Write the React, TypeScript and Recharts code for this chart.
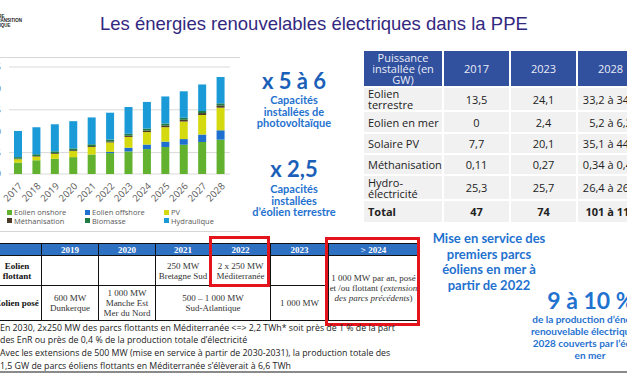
import React from 'react';
import { BarChart, Bar, XAxis, YAxis, CartesianGrid, Legend } from 'recharts';

// ── chart data (GW) ──
const YEARS = ['2017', '2018', '2019', '2020', '2021', '2022', '2023', '2024', '2025', '2026', '2027', '2028'];
const ONSHORE = [13.4, 16.1, 17.7, 19.7, 22.8, 24.4, 26.4, 29.1, 31.5, 34.2, 37.4, 40.1];
const OFFSHORE = [0, 0, 0, 0, 0, 1.5, 4.3, 5.3, 6.3, 6.6, 8.7, 11];
const PV = [3.9, 4.3, 5.9, 7.1, 8.7, 11, 12.6, 14.6, 16.9, 20.5, 22.8, 26.4];
const METHANISATION = [0.6, 0.7, 0.9, 1.0, 1.1, 1.2, 1.5, 1.8, 2.0, 2.1, 2.3, 2.6];
const BIOMASSE = [1.8, 1.9, 2.0, 2.1, 2.1, 2.1, 2.2, 2.2, 2.3, 2.3, 2.4, 2.4];
const HYDRO = [30.6, 31.5, 31.6, 31.8, 31.4, 31.4, 31.3, 31.2, 31.6, 30.9, 31.0, 30.8];
const Y_TICKS = [0, 25, 50, 75, 100, 125];

const SERIES = [
    { key: 'onshore', name: 'Eolien onshore', color: '#62b22f', values: ONSHORE },
    { key: 'offshore', name: 'Eolien offshore', color: '#1f6fd1', values: OFFSHORE },
    { key: 'pv', name: 'PV', color: '#d5d90f', values: PV },
    { key: 'metha', name: 'Méthanisation', color: '#4d3b2a', values: METHANISATION },
    { key: 'bio', name: 'Biomasse', color: '#1e7b43', values: BIOMASSE },
    { key: 'hydro', name: 'Hydraulique', color: '#1a9bd7', values: HYDRO },
];

// ── PPE table (right) ──
const PPE_HEAD = ['Puissance installée (en GW)', '2017', '2023', '2028'];
const PPE_ROWS = [
    ['Eolien terrestre', '13,5', '24,1', '33,2 à 34,7'],
    ['Eolien en mer', '0', '2,4', '5,2 à 6,2'],
    ['Solaire PV', '7,7', '20,1', '35,1 à 44,0'],
    ['Méthanisation', '0,11', '0,27', '0,34 à 0,42'],
    ['Hydro-électricité', '25,3', '25,7', '26,4 à 26,7'],
    ['Total', '47', '74', '101 à 113'],
];

const BLUE = '#1f72cf';

const chartData = YEARS.map((year, i) => {
    const row: Record<string, string | number> = { year };
    SERIES.forEach((s) => { row[s.key] = s.values[i]; });
    return row;
});

function ChartLegend() {
    return (
        <div style={{ display: 'grid', gridTemplateColumns: '78px 79px 70px', fontSize: 7.5, lineHeight: '8.5px', color: '#595959', fontFamily: 'Open Sans' }}>
            {SERIES.map((s) => (
                <div key={s.key} style={{ display: 'flex', alignItems: 'center', whiteSpace: 'nowrap' }}>
                    <span style={{ width: 5, height: 5, background: s.color, marginRight: 2, display: 'inline-block' }} />
                    {s.name}
                </div>
            ))}
        </div>
    );
}

function CapacityChart() {
    return (
        <div style={{ position: 'absolute', left: -31, top: 57 }}>
            <BarChart width={261} height={175} data={chartData} margin={{ top: 10, right: 0, bottom: 7, left: 0 }} barSize={8}>
                <CartesianGrid vertical={false} stroke="#d9d9d9" />
                <XAxis
                    dataKey="year"
                    axisLine={false}
                    tickLine={false}
                    interval={0}
                    height={34}
                    angle={-45}
                    textAnchor="end"
                    tick={{ fill: '#595959', fontSize: 9.5, fontFamily: 'Open Sans' }}
                />
                <YAxis
                    width={40}
                    domain={[0, 125]}
                    ticks={Y_TICKS}
                    axisLine={false}
                    tickLine={false}
                    tick={{ fill: '#595959', fontSize: 9.5, fontFamily: 'Open Sans' }}
                />
                <Legend verticalAlign="bottom" content={<ChartLegend />} wrapperStyle={{ left: 38, bottom: 7, width: 235 }} />
                {SERIES.map((s) => (
                    <Bar key={s.key} dataKey={s.key} name={s.name} stackId="a" fill={s.color} isAnimationActive={false} />
                ))}
            </BarChart>
        </div>
    );
}

function PpeTable() {
    const cell: React.CSSProperties = { display: 'flex', alignItems: 'center', justifyContent: 'center', fontSize: 11, color: '#222', background: '#f1f1f1', whiteSpace: 'nowrap', overflow: 'hidden' };
    return (
        <div style={{ position: 'absolute', left: 364, top: 51, display: 'grid', gridTemplateColumns: '78px 65px 65px 65px', gridTemplateRows: '35px 22px 20px 19px 19px 23px 21px', gap: 2, fontFamily: 'Open Sans' }}>
            {PPE_HEAD.map((h, i) => (
                <div key={h} style={{ ...cell, background: '#31509e', color: '#e9edf8', textAlign: 'center', whiteSpace: 'normal', lineHeight: '11px', padding: i === 0 ? '0 4px' : 0 }}>{h}</div>
            ))}
            {PPE_ROWS.map((r, ri) => r.map((v, ci) => (
                <div key={`${ri}-${ci}`} style={{
                    ...cell,
                    justifyContent: ci === 0 ? 'flex-start' : 'center',
                    paddingLeft: ci === 0 ? 4 : 0,
                    whiteSpace: ci === 0 ? 'normal' : 'nowrap',
                    lineHeight: '11px',
                    fontWeight: ri === PPE_ROWS.length - 1 ? 700 : 400,
                }}>{v}</div>
            )))}
        </div>
    );
}

function OffshoreTable() {
    const td: React.CSSProperties = { border: '1.5px solid #111', fontFamily: 'Liberation Serif', fontSize: 9, lineHeight: '10px', color: '#333', textAlign: 'center', padding: 0, verticalAlign: 'middle' };
    const th: React.CSSProperties = { ...td, background: '#2e70c2', color: '#fff', fontWeight: 700 };
    const lbl: React.CSSProperties = { ...td, fontWeight: 700, color: '#111' };
    return (
        <table style={{ position: 'absolute', left: -8, top: 243, borderCollapse: 'collapse', tableLayout: 'fixed', width: 426 }}>
            <colgroup>
                {[49, 57, 57, 55, 60, 58, 90].map((w, i) => <col key={i} style={{ width: w }} />)}
            </colgroup>
            <tbody>
                <tr style={{ height: 12 }}>
                    <th style={th}></th>
                    {['2019', '2020', '2021', '2022', '2023', '> 2024'].map((y) => <th key={y} style={th}>{y}</th>)}
                </tr>
                <tr style={{ height: 30 }}>
                    <td style={lbl}>Eolien<br />flottant</td>
                    <td style={td}></td>
                    <td style={td}></td>
                    <td style={td}>250 MW<br />Bretagne Sud</td>
                    <td style={td}>2 x 250 MW<br />Méditerranée</td>
                    <td style={td}></td>
                    <td style={td} rowSpan={2}>1 000 MW par an, posé<br />et /ou flottant (<i>extension<br />des parcs précédents</i>)</td>
                </tr>
                <tr style={{ height: 35 }}>
                    <td style={{ ...lbl, whiteSpace: 'nowrap' }}>Eolien posé</td>
                    <td style={td}>600 MW<br />Dunkerque</td>
                    <td style={td}>1 000 MW<br />Manche Est<br />Mer du Nord</td>
                    <td style={td} colSpan={2}>500 – 1 000 MW<br />Sud-Atlantique</td>
                    <td style={td}>1 000 MW</td>
                </tr>
            </tbody>
        </table>
    );
}

export default function App() {
    const callBig: React.CSSProperties = { position: 'absolute', fontFamily: 'Lato', fontWeight: 700, color: '#1a5fb8', textAlign: 'center', whiteSpace: 'nowrap', lineHeight: '24px' };
    const callSmall: React.CSSProperties = { position: 'absolute', fontFamily: 'Lato', fontWeight: 700, color: BLUE, textAlign: 'center', whiteSpace: 'nowrap' };
    return (
        <div style={{ position: 'absolute', left: 0, top: 0, width: 627, height: 376, overflow: 'hidden', background: '#fff' }}>
            {/* logo fragment */}
            <div style={{ position: 'absolute', left: -20, top: 15, fontFamily: 'Liberation Sans', fontWeight: 700, fontSize: 4.5, lineHeight: '4.3px', color: '#222' }}>
                MINISTÈRE<br />DE LA TRANSITION<br />ÉCOLOGIQUE
            </div>
            <div style={{ position: 'absolute', left: 100, top: 13, fontFamily: 'Liberation Sans', fontSize: 18.5, color: '#33287f', whiteSpace: 'nowrap' }}>
                Les énergies renouvelables électriques dans la PPE
            </div>

            <div style={{ position: 'absolute', left: 0, top: 57, width: 240, height: 175, borderTop: '1px solid #d6d6d6', borderBottom: '1px solid #d6d6d6', boxSizing: 'border-box' }} />
            <CapacityChart />

            <div style={{ ...callBig, left: 234, width: 120, top: 69, fontSize: 22 }}>x 5 à 6</div>
            <div style={{ ...callSmall, left: 234, width: 120, top: 94, fontSize: 11, lineHeight: '11.5px' }}>Capacités<br />installées de<br />photovoltaïque</div>
            <div style={{ ...callBig, left: 234, width: 120, top: 157, fontSize: 22 }}>x 2,5</div>
            <div style={{ ...callSmall, left: 234, width: 120, top: 183, fontSize: 11, lineHeight: '11.5px' }}>Capacités<br />installées<br />d’éolien terrestre</div>

            <PpeTable />
            <OffshoreTable />
            <div style={{ position: 'absolute', left: 209, top: 236, width: 61, height: 51, border: '3px solid #e3141b', boxSizing: 'border-box' }} />
            <div style={{ position: 'absolute', left: 325, top: 237, width: 95, height: 89, border: '3px solid #e3141b', boxSizing: 'border-box' }} />

            <div style={{ position: 'absolute', left: 0, top: 321.5, fontFamily: 'Open Sans', fontSize: 8.8, lineHeight: '12.7px', color: '#222', whiteSpace: 'nowrap' }}>
                En 2030, 2x250 MW des parcs flottants en Méditerranée &lt;=&gt; 2,2 TWh* soit près de 1 % de la part<br />
                des EnR ou près de 0,4 % de la production totale d’électricité<br />
                Avec les extensions de 500 MW (mise en service à partir de 2030-2031), la production totale des<br />
                1,5 GW de parcs éoliens flottants en Méditerranée s’élèverait à 6,6 TWh
            </div>

            <div style={{ ...callSmall, left: 419, width: 140, top: 231, fontSize: 13, lineHeight: '15.5px' }}>
                Mise en service des<br />premiers parcs<br />éoliens en mer à<br />partir de 2022
            </div>
            <div style={{ ...callSmall, left: 531, width: 120, top: 286, fontSize: 23 }}>9 à 10 %</div>
            <div style={{ ...callSmall, left: 520, width: 140, top: 313, fontSize: 10, lineHeight: '12px' }}>
                de la production d’énergie<br />renouvelable électrique en<br />2028 couverts par l’éolien<br />en mer
            </div>

            <div style={{ position: 'absolute', left: 0, top: 371, width: 627, height: 2, background: '#8a8a8a' }} />
        </div>
    );
}
